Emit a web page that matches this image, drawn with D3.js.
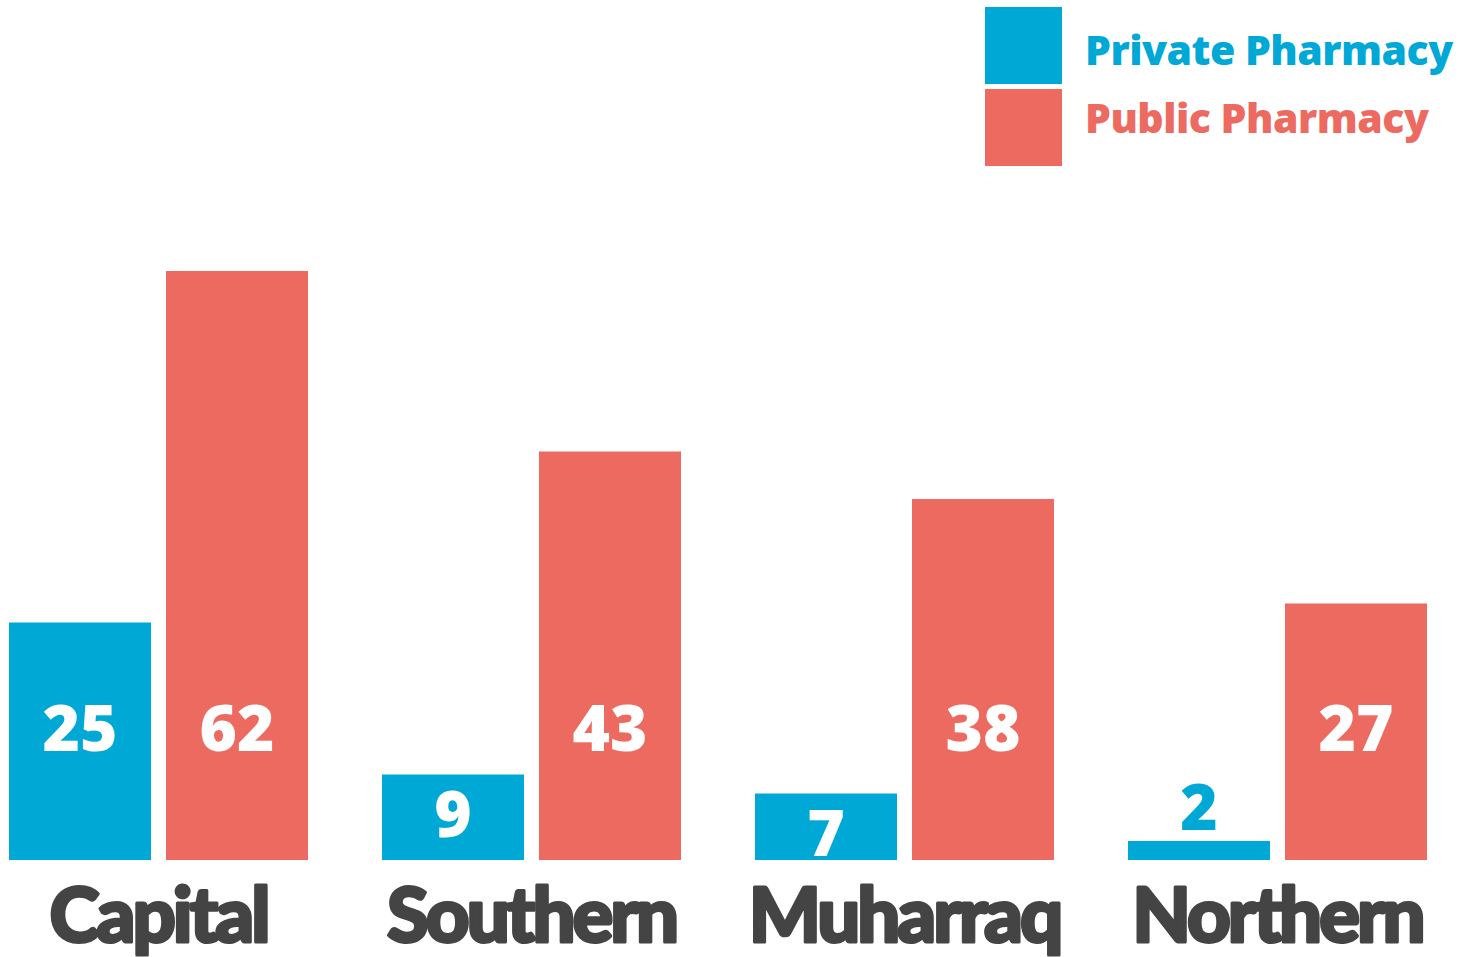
<!DOCTYPE html>
<html lang="en">
<head>
    <meta charset="UTF-8">
    <title>pharmacies by governorate</title>
    <script src="https://d3js.org/d3.v7.min.js"></script>
    <style>
        body { margin: 0; background: #fff; }
    </style>
</head>
<body>
    <svg></svg>
    <script>
        const categories = ["Capital", "Southern", "Muharraq", "Northern"];
        const seriesNames = ["Private Pharmacy", "Public Pharmacy"];
        const privateValues = [25, 9, 7, 2];
        const publicValues = [62, 43, 38, 27];
        const colors = ["#00a8d6", "#ec6a5f"];

        const svgWidth = 1469;
        const svgHeight = 957;
        const baseline = 860;

        const svg = d3.select("svg")
            .attr("width", svgWidth)
            .attr("height", svgHeight);

        const data = categories.map((c, i) => ({
            category: c,
            values: [
                { series: seriesNames[0], value: privateValues[i], color: colors[0] },
                { series: seriesNames[1], value: publicValues[i], color: colors[1] }
            ]
        }));

        const x0 = d3.scaleBand()
            .domain(categories)
            .range([9, 1427])
            .paddingInner(74 / 373)
            .paddingOuter(0);

        const x1 = d3.scaleBand()
            .domain(seriesNames)
            .range([0, x0.bandwidth()])
            .paddingInner(15 / 157)
            .paddingOuter(0);

        const y = d3.scaleLinear()
            .domain([0, d3.max(publicValues)])
            .range([baseline, 271]);

        const groups = svg.selectAll("g.group")
            .data(data)
            .enter()
            .append("g")
            .attr("class", "group")
            .attr("transform", d => `translate(${x0(d.category)},0)`);

        groups.selectAll("rect")
            .data(d => d.values)
            .enter()
            .append("rect")
            .attr("x", d => x1(d.series))
            .attr("y", d => y(d.value))
            .attr("width", x1.bandwidth())
            .attr("height", d => baseline - y(d.value))
            .attr("fill", d => d.color);

        // value labels: fixed height for tall bars, pushed down for short ones,
        // above the bar if it is too thin to hold the number
        const thin = d => baseline - y(d.value) < 50;
        groups.selectAll("text.value")
            .data(d => d.values)
            .enter()
            .append("text")
            .attr("class", "value")
            .attr("x", d => x1(d.series) + x1.bandwidth() / 2)
            .attr("y", d => thin(d) ? y(d.value) - 36 : Math.max(726, y(d.value) + 38))
            .attr("text-anchor", "middle")
            .attr("dominant-baseline", "central")
            .attr("font-family", "'Open Sans', 'Noto Sans', sans-serif")
            .attr("font-weight", 800)
            .attr("font-size", 64)
            .attr("fill", d => thin(d) ? d.color : "#fff")
            .text(d => d.value);

        // category labels
        svg.selectAll("text.cat")
            .data(categories)
            .enter()
            .append("text")
            .attr("class", "cat")
            .attr("x", d => x0(d) + x0.bandwidth() / 2)
            .attr("y", 942)
            .attr("text-anchor", "middle")
            .attr("font-family", "Lato, 'Open Sans', sans-serif")
            .attr("font-weight", 900)
            .attr("font-size", 76)
            .attr("letter-spacing", -3)
            .attr("fill", "#444444")
            .attr("stroke", "#444444")
            .attr("stroke-width", 3)
            .attr("stroke-linejoin", "round")
            .text(d => d);

        // legend
        const legendTextY = [65, 133];
        const legend = svg.selectAll("g.legend")
            .data(seriesNames)
            .enter()
            .append("g")
            .attr("class", "legend");

        legend.append("rect")
            .attr("x", 985)
            .attr("y", (d, i) => 7 + i * 82)
            .attr("width", 77)
            .attr("height", 77)
            .attr("fill", (d, i) => colors[i]);

        legend.append("text")
            .attr("x", 1085)
            .attr("y", (d, i) => legendTextY[i])
            .attr("font-family", "'Open Sans', 'Noto Sans', sans-serif")
            .attr("font-weight", 800)
            .attr("font-size", 41)
            .attr("letter-spacing", -0.5)
            .attr("fill", (d, i) => colors[i])
            .text(d => d);
    </script>
</body>
</html>
